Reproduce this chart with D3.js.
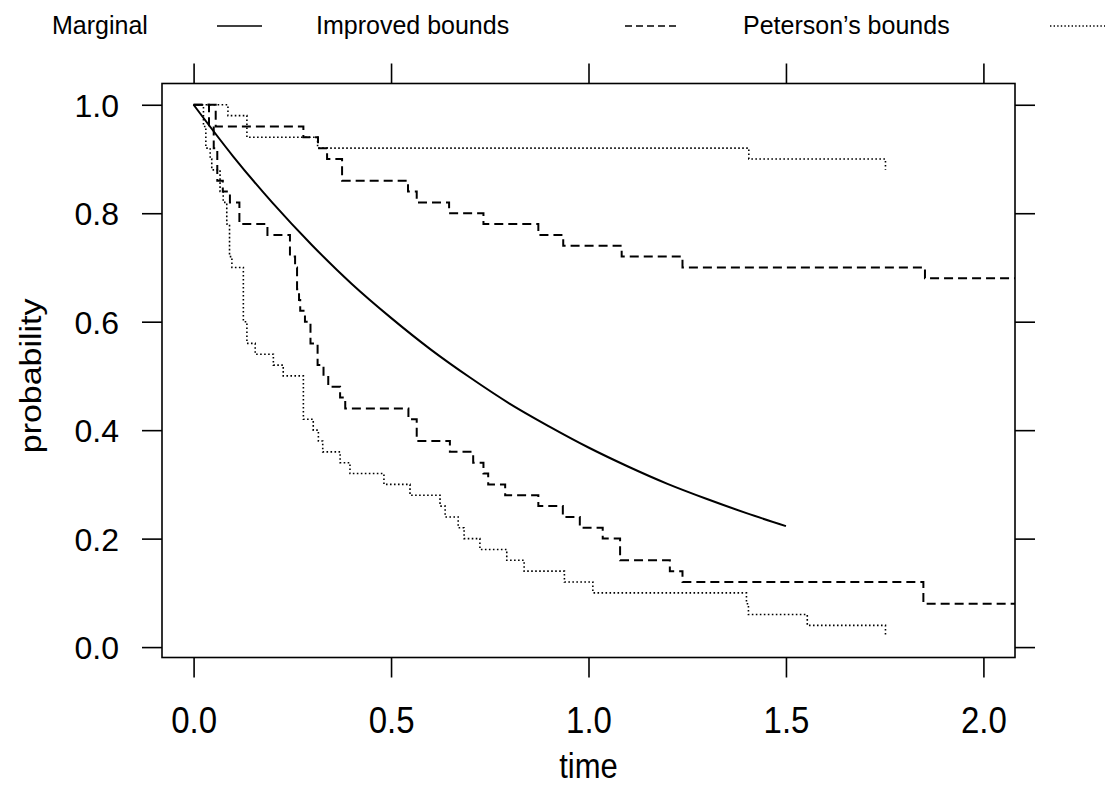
<!DOCTYPE html>
<html>
<head>
<meta charset="utf-8">
<script src="https://cdn.jsdelivr.net/npm/d3@7"></script>
<style>
  html, body { margin: 0; padding: 0; background: #ffffff; }
  svg { display: block; }
  text { font-family: "Liberation Sans", Arial, Helvetica, sans-serif; fill: #000; }
</style>
</head>
<body>
<svg id="chart" width="1114" height="805"></svg>
<script>
// ---------------- data ----------------
const xTicks = [0.0, 0.5, 1.0, 1.5, 2.0];
const yTicks = [0.0, 0.2, 0.4, 0.6, 0.8, 1.0];
const xTickLabels = ["0.0", "0.5", "1.0", "1.5", "2.0"];
const yTickLabels = ["0.0", "0.2", "0.4", "0.6", "0.8", "1.0"];

const legendLabels = ["Marginal", "Improved bounds", "Peterson\u2019s bounds"];

// Marginal survival curve (solid)
const marginalTime = [0, 0.1, 0.2, 0.3, 0.4, 0.5, 0.6, 0.7, 0.8, 0.9, 1.0, 1.1, 1.2, 1.3, 1.4, 1.5];
const marginalProb = [1.000, 0.905, 0.819, 0.741, 0.670, 0.607, 0.549, 0.497, 0.449, 0.407, 0.368, 0.333, 0.301, 0.273, 0.247, 0.223];

// Improved bounds (dashed) - upper
const improvedUpperTime = [0, 0.056, 0.278, 0.315, 0.338, 0.376, 0.543, 0.565, 0.647, 0.734, 0.873, 0.936, 1.084, 1.238, 1.852, 2.10];
const improvedUpperProb = [1.00, 0.96, 0.94, 0.92, 0.90, 0.86, 0.84, 0.82, 0.80, 0.78, 0.76, 0.74, 0.72, 0.70, 0.68, 0.68];

// Improved bounds (dashed) - lower
const improvedLowerTime = [0, 0.039, 0.051, 0.060, 0.074, 0.092, 0.116, 0.187, 0.244, 0.257, 0.262, 0.267, 0.270, 0.282, 0.296, 0.314, 0.329, 0.341, 0.371, 0.384, 0.544, 0.565, 0.649, 0.708, 0.734, 0.746, 0.789, 0.873, 0.935, 0.978, 1.036, 1.080, 1.206, 1.238, 1.848, 2.10];
const improvedLowerProb = [1.00, 0.96, 0.92, 0.86, 0.84, 0.82, 0.78, 0.76, 0.72, 0.70, 0.66, 0.64, 0.62, 0.60, 0.56, 0.52, 0.50, 0.48, 0.46, 0.44, 0.42, 0.38, 0.36, 0.34, 0.32, 0.30, 0.28, 0.26, 0.24, 0.22, 0.20, 0.16, 0.14, 0.12, 0.08, 0.08];

// Peterson's bounds (dotted) - upper
const petersonUpperTime = [0, 0.087, 0.135, 0.314, 1.406, 1.752];
const petersonUpperProb = [1.00, 0.98, 0.94, 0.92, 0.90, 0.88];

// Peterson's bounds (dotted) - lower
const petersonLowerTime = [0, 0.025, 0.031, 0.042, 0.046, 0.067, 0.075, 0.084, 0.091, 0.097, 0.126, 0.135, 0.156, 0.202, 0.227, 0.278, 0.303, 0.316, 0.327, 0.371, 0.396, 0.482, 0.548, 0.624, 0.637, 0.670, 0.685, 0.725, 0.793, 0.837, 0.939, 1.011, 1.400, 1.405, 1.554, 1.752];
const petersonLowerProb = [1.00, 0.96, 0.92, 0.90, 0.88, 0.84, 0.82, 0.78, 0.72, 0.70, 0.60, 0.56, 0.54, 0.52, 0.50, 0.42, 0.40, 0.38, 0.36, 0.34, 0.32, 0.30, 0.28, 0.26, 0.24, 0.22, 0.20, 0.18, 0.16, 0.14, 0.12, 0.10, 0.08, 0.06, 0.04, 0.02];

// ---------------- layout ----------------
const svg = d3.select("#chart");
const plot = { left: 162, right: 1015, top: 83.5, bottom: 657.5 };

const x = d3.scaleLinear().domain([-0.08, 2.08]).range([plot.left, plot.right]);
const y = d3.scaleLinear().domain([-0.0192, 1.0392]).range([plot.bottom, plot.top]);

const font = "'Liberation Sans', Arial, Helvetica, sans-serif";
const tickLen = 20;

// clip
svg.append("defs").append("clipPath").attr("id", "clip")
  .append("rect")
  .attr("x", plot.left).attr("y", plot.top)
  .attr("width", plot.right - plot.left).attr("height", plot.bottom - plot.top);

// axes with outward ticks on all four sides
const axLeft = d3.axisLeft(y).tickValues(yTicks).tickSize(tickLen).tickFormat((d, i) => yTickLabels[i]).tickPadding(23);
const axRight = d3.axisRight(y).tickValues(yTicks).tickSize(tickLen).tickFormat("");
const axBottom = d3.axisBottom(x).tickValues(xTicks).tickSize(tickLen).tickFormat((d, i) => xTickLabels[i]);
const axTop = d3.axisTop(x).tickValues(xTicks).tickSize(tickLen).tickFormat("");

function styleAxis(g) {
  g.select(".domain").remove();
  g.selectAll(".tick line").attr("stroke", "#000").attr("stroke-width", 1.6);
  g.selectAll(".tick text").attr("fill", "#000").style("font-family", font);
}

svg.append("g").attr("transform", `translate(${plot.left},0)`).call(axLeft).call(styleAxis)
  .selectAll(".tick text").style("font-size", "32px").attr("dy", "0.36em");
svg.append("g").attr("transform", `translate(${plot.right},0)`).call(axRight).call(styleAxis);
svg.append("g").attr("transform", `translate(0,${plot.bottom})`).call(axBottom).call(styleAxis)
  .selectAll(".tick text").style("font-size", "33px")
  .attr("y", 0).attr("dy", 0)
  .attr("transform", "translate(0,75) scale(1,1.1)");
svg.append("g").attr("transform", `translate(0,${plot.top})`).call(axTop).call(styleAxis);

// frame
svg.append("rect")
  .attr("x", plot.left).attr("y", plot.top)
  .attr("width", plot.right - plot.left).attr("height", plot.bottom - plot.top)
  .attr("fill", "none").attr("stroke", "#000").attr("stroke-width", 1.6);

// lines
const g = svg.append("g").attr("clip-path", "url(#clip)");

function zip(ts, ps) { return ts.map((t, i) => [t, ps[i]]); }

const stepLine = d3.line().x(d => x(d[0])).y(d => y(d[1])).curve(d3.curveStepAfter);
const smoothLine = d3.line().x(d => x(d[0])).y(d => y(d[1])).curve(d3.curveMonotoneX);

const dashStyle = "9,5";
const dotStyle = "1.6,2.4";

g.append("path").datum(zip(marginalTime, marginalProb))
  .attr("d", smoothLine).attr("fill", "none").attr("stroke", "#000").attr("stroke-width", 2);

[[improvedUpperTime, improvedUpperProb], [improvedLowerTime, improvedLowerProb]].forEach(([t, p]) => {
  g.append("path").datum(zip(t, p))
    .attr("d", stepLine).attr("fill", "none").attr("stroke", "#000")
    .attr("stroke-width", 2).attr("stroke-dasharray", dashStyle);
});

[[petersonUpperTime, petersonUpperProb], [petersonLowerTime, petersonLowerProb]].forEach(([t, p]) => {
  g.append("path").datum(zip(t, p))
    .attr("d", stepLine).attr("fill", "none").attr("stroke", "#000")
    .attr("stroke-width", 1.6).attr("stroke-dasharray", dotStyle);
});

// axis titles
svg.append("text")
  .attr("transform", `translate(${(x(0) + x(2)) / 2},778) scale(1,1.12)`)
  .attr("text-anchor", "middle").style("font-size", "31px").style("font-family", font)
  .text("time");

svg.append("text")
  .attr("transform", `translate(41,${(y(0) + y(1)) / 2}) rotate(-90) scale(1.17,1)`)
  .attr("text-anchor", "middle").style("font-size", "29px").style("font-family", font)
  .text("probability");

// legend
const legendTextX = [52, 316, 743];
const legendLineX = [[217, 262], [625, 680], [1050, 1105]];
const legendDash = [null, "7,4", "1.4,2.2"];
const legendWidth = [1.6, 1.6, 1.3];
const legendY = 34;
legendLabels.forEach((lab, i) => {
  svg.append("text").attr("x", legendTextX[i]).attr("y", legendY)
    .style("font-size", "25px").style("font-family", font).text(lab);
  const ln = svg.append("line")
    .attr("x1", legendLineX[i][0]).attr("x2", legendLineX[i][1])
    .attr("y1", 26).attr("y2", 26)
    .attr("stroke", "#000").attr("stroke-width", legendWidth[i]);
  if (legendDash[i]) ln.attr("stroke-dasharray", legendDash[i]);
});
</script>
</body>
</html>
